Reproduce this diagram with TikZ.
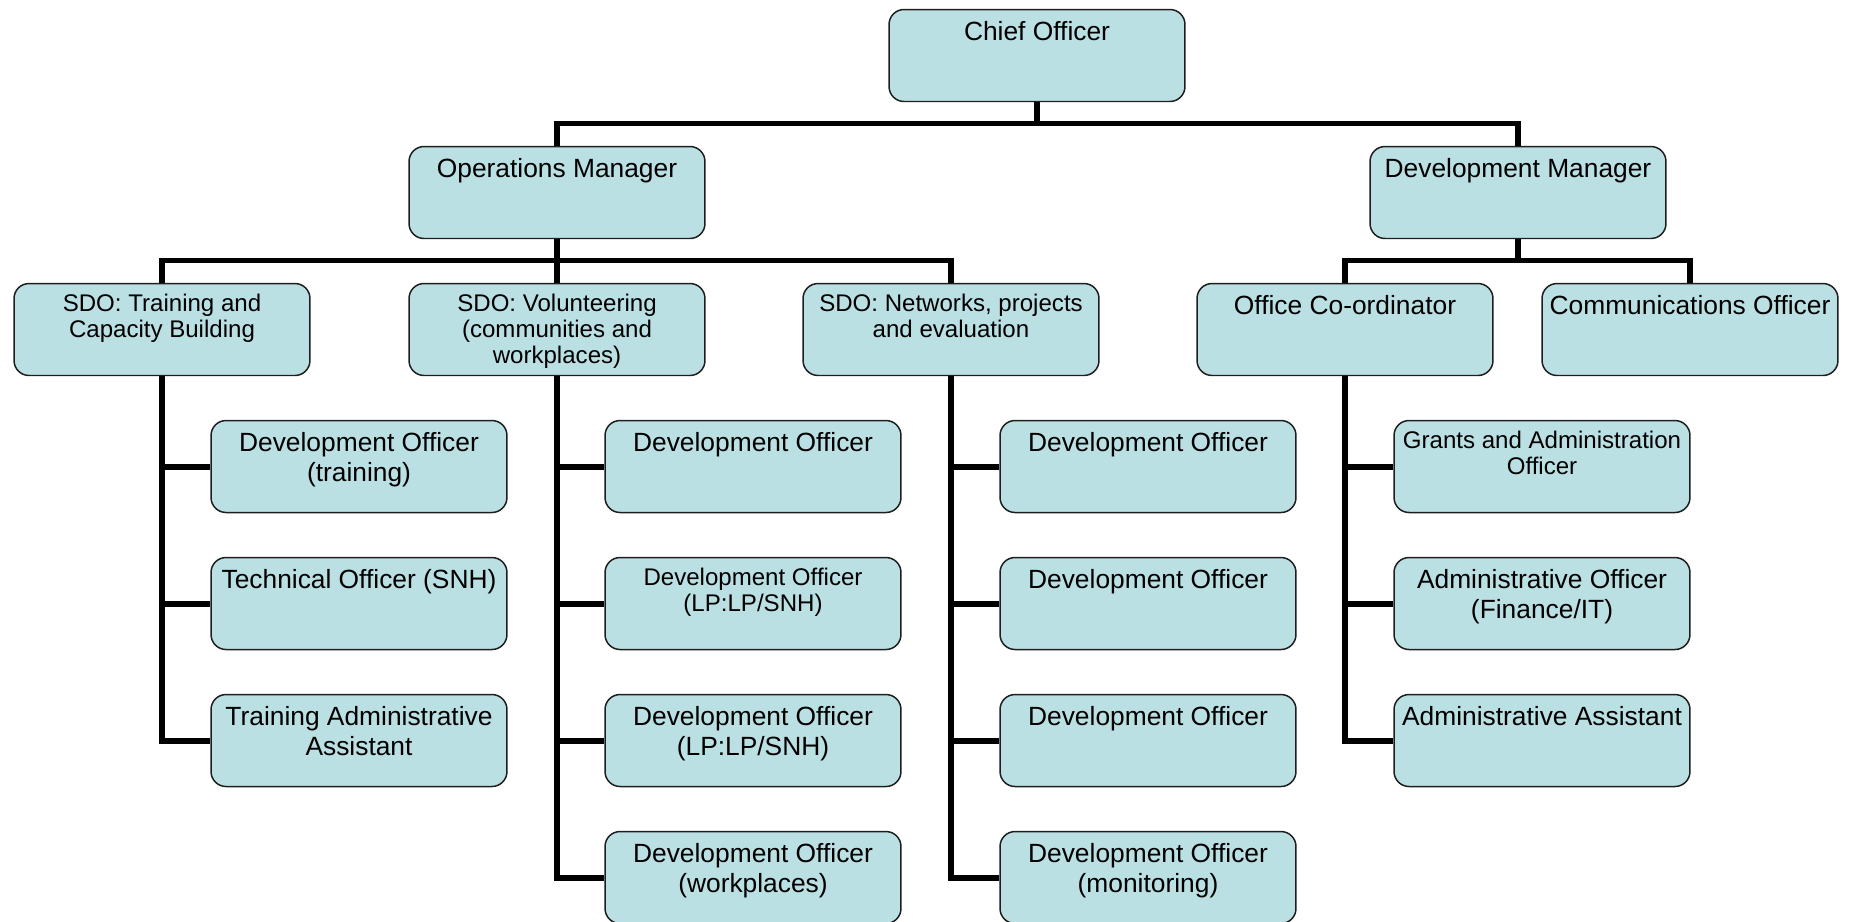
\documentclass[tikz,border=0pt]{standalone}
\usepackage{fontspec}
\setmainfont{Liberation Sans}
\usepackage{tikz}
\usepackage{color}

\definecolor{postfill}{RGB}{187,224,227}
\definecolor{postline}{RGB}{30,30,30}
\newcommand{\bigtxt}[1]{\parbox[c][1.84cm][t]{5.9cm}{\centering\fontsize{15}{17.5}\selectfont\rule{0pt}{0.61cm}#1}}
\newcommand{\smalltxt}[1]{\parbox[c][1.84cm][t]{5.9cm}{\centering\fontsize{13.7}{14.8}\selectfont\rule{0pt}{0.56cm}#1}}

\begin{document}
\begin{tikzpicture}[x=0.02cm, y=-0.02cm,
    post/.style={draw=postline, line width=0.85pt, fill=postfill, rounded corners=0.3cm,
                 inner sep=0pt, minimum width=5.92cm, minimum height=1.84cm},
    wire/.style={line width=3.4pt, black}]
          \useasboundingbox (0,0) rectangle (1857,921);
          \clip (0,0) rectangle (1857,921);
          \draw (1037,  55.5) node[post] (chief)    {\bigtxt{Chief Officer}};
          \draw ( 557, 192.5) node[post] (opsmgr)   {\bigtxt{Operations Manager}};
          \draw (1518, 192.5) node[post] (devmgr)   {\bigtxt{Development Manager}};
          \draw ( 162, 329.5) node[post] (sdotrain) {\smalltxt{SDO: Training and\\Capacity Building}};
          \draw ( 557, 329.5) node[post] (sdovol)   {\smalltxt{SDO: Volunteering\\(communities and\\workplaces)}};
          \draw ( 951, 329.5) node[post] (sdonet)   {\smalltxt{SDO: Networks, projects\\and evaluation}};
          \draw (1345, 329.5) node[post] (officeco) {\bigtxt{Office Co-ordinator}};
          \draw (1690, 329.5) node[post] (comms)    {\bigtxt{Communications Officer}};
          \draw ( 359, 466.5) node[post] (train1) {\bigtxt{Development Officer\\(training)}};
          \draw ( 359, 603.5) node[post] (train2) {\bigtxt{Technical Officer (SNH)}};
          \draw ( 359, 740.5) node[post] (train3) {\bigtxt{Training Administrative\\Assistant}};
          \draw ( 753, 466.5) node[post] (vol1) {\bigtxt{Development Officer}};
          \draw ( 753, 603.5) node[post] (vol2) {\smalltxt{Development Officer\\(LP:LP/SNH)}};
          \draw ( 753, 740.5) node[post] (vol3) {\bigtxt{Development Officer\\(LP:LP/SNH)}};
          \draw ( 753, 877.5) node[post] (vol4) {\bigtxt{Development Officer\\(workplaces)}};
          \draw (1148, 466.5) node[post] (net1) {\bigtxt{Development Officer}};
          \draw (1148, 603.5) node[post] (net2) {\bigtxt{Development Officer}};
          \draw (1148, 740.5) node[post] (net3) {\bigtxt{Development Officer}};
          \draw (1148, 877.5) node[post] (net4) {\bigtxt{Development Officer\\(monitoring)}};
          \draw (1542, 466.5) node[post] (adm1) {\smalltxt{Grants and Administration\\Officer}};
          \draw (1542, 603.5) node[post] (adm2) {\bigtxt{Administrative Officer\\(Finance/IT)}};
          \draw (1542, 740.5) node[post] (adm3) {\bigtxt{Administrative Assistant}};
          \coordinate (topbus) at (1037, 123.5);
          \coordinate (opsbus) at (557, 260.5);
          \coordinate (devbus) at (1518, 260.5);
          \draw[wire] (chief.south) -- (topbus);
          \draw[wire] (opsmgr.north) |- (topbus) -| (devmgr.north);
          \draw[wire] (opsmgr.south) -- (sdovol.north);
          \draw[wire] (sdotrain.north) |- (opsbus) -| (sdonet.north);
          \draw[wire] (devmgr.south) -- (devbus);
          \draw[wire] (officeco.north) |- (devbus) -| (comms.north);
          \foreach \n in {train1,train2,train3} \draw[wire] (sdotrain.south) |- (\n.west);
          \foreach \n in {vol1,vol2,vol3,vol4} \draw[wire] (sdovol.south) |- (\n.west);
          \foreach \n in {net1,net2,net3,net4} \draw[wire] (sdonet.south) |- (\n.west);
          \foreach \n in {adm1,adm2,adm3} \draw[wire] (officeco.south) |- (\n.west);
\end{tikzpicture}
\end{document}
